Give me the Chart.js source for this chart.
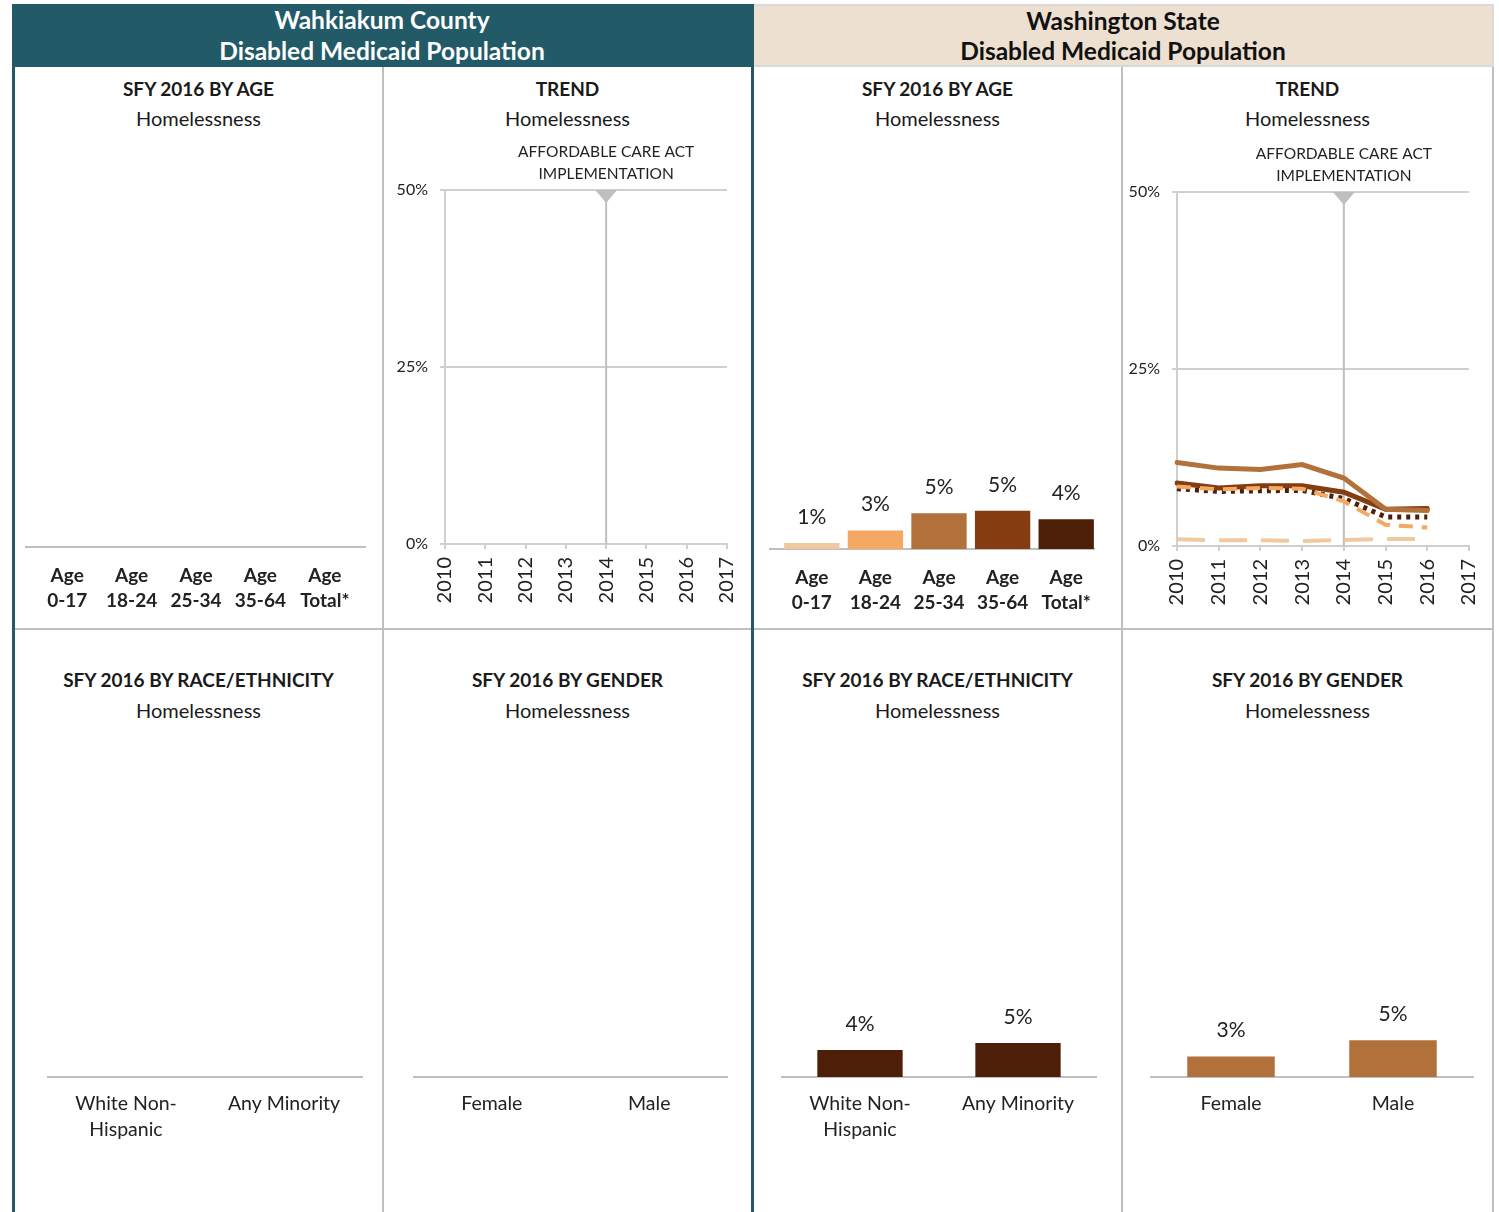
<!DOCTYPE html>
<html><head><meta charset="utf-8">
<script src="https://cdn.jsdelivr.net/npm/chart.js@4.4.1/dist/chart.umd.min.js"></script>
<style>
body{margin:0;width:1499px;height:1212px;overflow:hidden;background:#fff;font-family:Lato,'Noto Sans',sans-serif;color:#1e1e1e;position:relative}
.box{position:absolute}
.hdr{position:absolute;top:4px;height:63px;text-align:center;font-weight:bold;font-size:24.5px;line-height:31px;box-sizing:border-box}
.t1{position:absolute;text-align:center;font-weight:bold;font-size:19px;line-height:24px;color:#1a1a1a}
.t2{position:absolute;text-align:center;font-size:20px;line-height:24px;color:#1a1a1a}
canvas{position:absolute}
</style></head><body>
<script>
// ---------------- DATA ----------------
const ageCategories = [['Age','0-17'],['Age','18-24'],['Age','25-34'],['Age','35-64'],['Age','Total*']];
const raceCategories = [['White Non-','Hispanic'],'Any Minority'];
const genderCategories = ['Female','Male'];
const yearLabels = ['2010','2011','2012','2013','2014','2015','2016','2017'];
const yTickValues = [0,25,50];

// Wahkiakum County (no data shown)
const countyAge = [null,null,null,null,null];
const countyRace = [null,null];
const countyGender = [null,null];
const countyTrend = [null,null,null,null,null,null,null,null];

// Washington State
const stateAge = [0.85,2.6,5.05,5.4,4.2];
const stateRace = [3.8,4.8];
const stateGender = [2.9,5.2];
const stateTrend0to17  = [0.95,0.8,0.8,0.7,0.85,1.0,1.0,null];
const stateTrend18to24 = [8.4,8.0,8.2,8.1,6.3,3.0,2.6,null];
const stateTrend25to34 = [11.8,11.0,10.8,11.5,9.6,5.2,5.0,null];
const stateTrend35to64 = [8.9,8.2,8.5,8.5,7.6,5.2,5.3,null];
const stateTrendTotal  = [8.1,7.7,7.8,7.85,6.7,4.1,4.1,null];

// ---------------- STYLE ----------------
const TEAL='#225A68', BEIGE='#EDE0D0', GRID='#cfcfcf', AXIS='#bfbfbf', TXT='#222222';
const ageColors=['#F1C9A0','#F4A862','#B2703A','#843C10','#4E1F08'];
Chart.defaults.font.family='Lato';
Chart.defaults.color=TXT;
Chart.defaults.animation=false;

function el(tag,cls,css,html){const e=document.createElement(tag);if(cls)e.className=cls;Object.assign(e.style,css||{});if(html!=null)e.innerHTML=html;document.body.appendChild(e);return e;}

// Frame
el('div','hdr',{left:'12px',width:'740px',background:TEAL,color:'#fff'},'Wahkiakum County<br>Disabled Medicaid Population');
el('div','hdr',{left:'754px',width:'740px',background:BEIGE,color:'#111',borderTop:'2px solid #d9d9d9',borderBottom:'2px solid #d9d9d9',borderRight:'2px solid #d9d9d9',lineHeight:'30px'},'Washington State<br>Disabled Medicaid Population');
el('div','box',{left:'15px',top:'628px',width:'1478px',height:'2px',background:AXIS});
el('div','box',{left:'382px',top:'67px',width:'2px',height:'1145px',background:AXIS});
el('div','box',{left:'1121px',top:'67px',width:'2px',height:'1145px',background:AXIS});
el('div','box',{left:'1492px',top:'67px',width:'2px',height:'1145px',background:AXIS});
el('div','box',{left:'12px',top:'4px',width:'3px',height:'1208px',background:TEAL});
el('div','box',{left:'751px',top:'4px',width:'3px',height:'1208px',background:TEAL});

// Titles
const panelsX=[[15,367],[384,367],[754,367],[1123,369]];
const topTitles=['SFY 2016 BY AGE','TREND','SFY 2016 BY AGE','TREND'];
const botTitles=['SFY 2016 BY RACE/ETHNICITY','SFY 2016 BY GENDER','SFY 2016 BY RACE/ETHNICITY','SFY 2016 BY GENDER'];
panelsX.forEach((p,i)=>{
  el('div','t1',{left:p[0]+'px',width:p[1]+'px',top:(89-12)+'px'},topTitles[i]);
  el('div','t2',{left:p[0]+'px',width:p[1]+'px',top:(118-12)+'px'},'Homelessness');
  el('div','t1',{left:p[0]+'px',width:p[1]+'px',top:(680-12)+'px'},botTitles[i]);
  el('div','t2',{left:p[0]+'px',width:p[1]+'px',top:(710-12)+'px'},'Homelessness');
});

// ---------------- PLUGINS ----------------
const baselinePlugin={id:'baseline',beforeDatasetsDraw(c,a,o){const ca=c.chartArea,ctx=c.ctx;ctx.save();ctx.strokeStyle=AXIS;ctx.lineWidth=2;ctx.beginPath();ctx.moveTo(ca.left-(o.extL||0),ca.bottom);ctx.lineTo(ca.right+(o.extR||0),ca.bottom);ctx.stroke();ctx.restore();}};
const valueLabelPlugin={id:'valueLabels',afterDatasetsDraw(c){const ctx=c.ctx;c.data.datasets.forEach((ds,i)=>{c.getDatasetMeta(i).data.forEach((b,j)=>{const v=ds.data[j];if(v==null)return;ctx.save();ctx.font='21px Lato';ctx.fillStyle=TXT;ctx.textAlign='center';ctx.textBaseline='middle';ctx.fillText(Math.round(v)+'%',b.x,b.y-26);ctx.restore();});});}};
const acaPlugin={id:'aca',beforeDatasetsDraw(c,a,o){const ca=c.chartArea,ctx=c.ctx;const x=c.scales.x.getPixelForValue(4);ctx.save();ctx.strokeStyle=AXIS;ctx.lineWidth=2;ctx.beginPath();ctx.moveTo(x,ca.top);ctx.lineTo(x,ca.bottom);ctx.stroke();ctx.fillStyle=AXIS;ctx.beginPath();ctx.moveTo(x-11,ca.top);ctx.lineTo(x+11,ca.top);ctx.lineTo(x,ca.top+13);ctx.closePath();ctx.fill();ctx.font='15.5px Lato';ctx.fillStyle=TXT;ctx.textAlign='center';ctx.textBaseline='middle';ctx.fillText('AFFORDABLE CARE ACT',x,ca.top-38);ctx.fillText('IMPLEMENTATION',x,ca.top-16);ctx.restore();}};

function makeCanvas(l,t,w,h){const cv=el('canvas',null,{left:l+'px',top:t+'px',width:w+'px',height:h+'px'});cv.width=w;cv.height=h;return cv;}

function barChart(pos,labels,values,colors,o){
  const cv=makeCanvas(pos[0],pos[1],pos[2],pos[3]);
  return new Chart(cv,{type:'bar',data:{labels:labels,datasets:[{data:values,backgroundColor:colors,barPercentage:o.bp,categoryPercentage:1}]},
    options:{responsive:false,layout:{padding:{left:o.pl,right:o.pr,top:o.pt,bottom:0}},
      plugins:{legend:{display:false},tooltip:{enabled:false},baseline:{extL:o.extL||0,extR:o.extR||0}},
      scales:{y:{display:false,min:0,max:50},
        x:{grid:{display:false,drawTicks:false},border:{display:false},
          ticks:{font:{size:o.fs,weight:o.bold?'bold':'normal',lineHeight:o.lh},padding:o.tp,color:TXT,autoSkip:false,maxRotation:0},
          afterFit:s=>{s.height=o.xh;s.paddingLeft=0;s.paddingRight=0;}}}},
    plugins:[baselinePlugin,valueLabelPlugin]});
}

function trendChart(pos,datasets,o){
  const cv=makeCanvas(pos[0],pos[1],pos[2],pos[3]);
  return new Chart(cv,{type:'line',data:{labels:yearLabels,datasets:datasets},
    options:{responsive:false,layout:{padding:{left:0,right:o.pr,top:o.pt,bottom:0}},
      plugins:{legend:{display:false},tooltip:{enabled:false}},
      elements:{point:{radius:0}},
      scales:{
        y:{min:0,max:50,afterBuildTicks:s=>{s.ticks=yTickValues.map(v=>({value:v}));},
          grid:{color:GRID,lineWidth:2,tickLength:5,drawTicks:true},border:{display:true,color:GRID,width:2},
          ticks:{font:{size:16},padding:12,color:TXT,callback:v=>v+'%'},
          afterFit:s=>{s.width=o.yw;s.paddingTop=0;s.paddingBottom=0;}},
        x:{offset:false,grid:{drawOnChartArea:false,drawTicks:true,tickLength:5,color:GRID,lineWidth:2},border:{display:true,color:GRID,width:2},
          ticks:{font:{size:20},padding:8,color:TXT,minRotation:90,maxRotation:90,autoSkip:false},
          afterFit:s=>{s.height=o.xh;s.paddingLeft=0;s.paddingRight=0;}}}},
    plugins:[acaPlugin]});
}

// ---------------- CHARTS ----------------
barChart([15,135,366,490],ageCategories,countyAge,ageColors,{pl:20,pr:24,pt:58,xh:78,extL:10,extR:9,bp:0.87,bold:true,fs:19,lh:1.33,tp:16});
barChart([754,135,367,490],ageCategories,stateAge,ageColors,{pl:26,pr:23,pt:60,xh:76,extL:11,extR:-3,bp:0.87,bold:true,fs:19,lh:1.33,tp:16});

trendChart([384,130,367,495],[
  {data:countyTrend,borderColor:ageColors[4],borderWidth:5}
],{pr:24,pt:60,xh:81,yw:61});

const line=(d,c,w,dash,cap)=>({data:d,borderColor:c,borderWidth:w,borderDash:dash,borderCapStyle:cap,fill:false,tension:0,pointRadius:0,spanGaps:false});
trendChart([1123,130,368,495],[
  line(stateTrend0to17,ageColors[0],4,[28,14],'butt'),
  line(stateTrend18to24,ageColors[1],4,[14,9],'butt'),
  line(stateTrend25to34,ageColors[2],5,[],'round'),
  line(stateTrend35to64,ageColors[3],5,[],'round'),
  line(stateTrendTotal,ageColors[4],5,[4,5],'butt')
],{pr:22,pt:62,xh:79,yw:54});

barChart([15,640,366,560],raceCategories,countyRace,ageColors[4],{pl:32,pr:18,pt:83,xh:123,bp:0.54,bold:false,fs:19.5,lh:1.34,tp:14});
barChart([384,640,367,560],genderCategories,countyGender,ageColors[2],{pl:29,pr:23,pt:83,xh:123,bp:0.54,bold:false,fs:19.5,lh:1.34,tp:14});
barChart([754,640,367,560],raceCategories,stateRace,ageColors[4],{pl:27,pr:24,pt:83,xh:123,bp:0.54,bold:false,fs:19.5,lh:1.34,tp:14});
barChart([1123,640,368,560],genderCategories,stateGender,ageColors[2],{pl:27,pr:17,pt:83,xh:123,bp:0.54,bold:false,fs:19.5,lh:1.34,tp:14});
</script>
</body></html>
